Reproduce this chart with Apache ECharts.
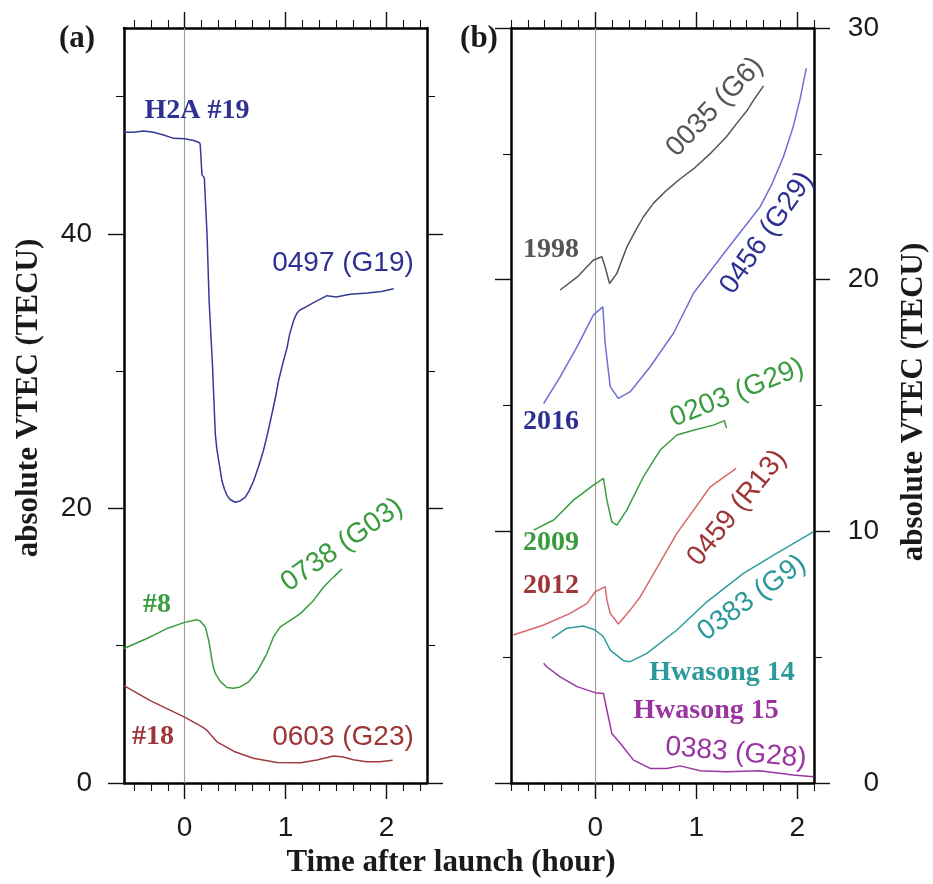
<!DOCTYPE html>
<html><head><meta charset="utf-8">
<script src="https://cdn.jsdelivr.net/npm/echarts@6/dist/echarts.min.js"></script>
<style>html,body{margin:0;padding:0;background:#fff}#c{width:933px;height:884px}</style>
</head><body><div id="c"></div>
<script>
// ---------- Panel (a) data: time after launch (hour) / absolute VTEC (TECU)
const tBlueA = [-0.6,-0.505,-0.406,-0.307,-0.208,-0.109,0,0.09,0.149,0.155,0.172,0.188,0.195,0.222,0.243,0.277,0.304,0.32,0.337,0.355,0.37,0.395,0.42,0.45,0.5,0.55,0.6,0.64,0.683,0.73,0.78,0.82,0.865,0.9,0.93,0.97,1.014,1.04,1.08,1.11,1.14,1.18,1.277,1.41,1.5,1.64,1.81,1.95,2.07];
const vBlueA = [47.4,47.4,47.5,47.4,47.2,46.96,46.93,46.8,46.64,46.47,44.3,44.2,44.1,40.0,35.1,30.3,25.4,24.3,23.5,22.7,22.0,21.4,20.95,20.65,20.45,20.55,20.8,21.3,22.0,23.0,24.2,25.4,26.9,28.1,29.3,30.5,31.7,32.7,33.7,34.2,34.45,34.6,35.0,35.5,35.4,35.6,35.7,35.8,36.0];
const tGreenA = [-0.6,-0.34,-0.175,0,0.12,0.155,0.205,0.238,0.255,0.27,0.285,0.304,0.353,0.42,0.485,0.55,0.634,0.716,0.815,0.88,0.947,1.047,1.146,1.277,1.376,1.475,1.558];
const vGreenA = [9.8,10.64,11.25,11.7,11.9,11.8,11.37,10.4,9.7,8.95,8.45,7.98,7.4,6.96,6.9,7.0,7.37,8.1,9.43,10.64,11.37,11.85,12.34,13.3,14.28,15.0,15.6];
const tRedA = [-0.6,-0.34,0,0.17,0.22,0.32,0.49,0.68,0.915,1.15,1.31,1.475,1.57,1.67,1.8,1.93,2.06];
const vRedA = [7.1,6.0,4.8,4.1,3.85,3.0,2.3,1.8,1.5,1.48,1.67,1.96,1.9,1.7,1.55,1.55,1.65];

// ---------- Panel (b) data
const tGray = [-0.347,-0.18,-0.017,0.066,0.099,0.142,0.215,0.314,0.4,0.478,0.58,0.71,0.84,0.973,1.15,1.30,1.4,1.50,1.58,1.667];
const vGray = [19.59,20.1,20.78,20.91,20.5,19.85,20.25,21.3,21.95,22.5,23.05,23.56,24.0,24.4,25.05,25.68,26.2,26.7,27.2,27.7];
const tBlueB = [-0.51,-0.347,-0.18,-0.017,0.076,0.099,0.149,0.23,0.347,0.545,0.775,0.94,0.973,1.30,1.634,1.75,1.864,1.96,2.03,2.09];
const vBlueB = [15.08,16.14,17.33,18.6,18.92,17.47,15.75,15.28,15.55,16.54,17.87,19.19,19.46,21.18,22.9,23.8,24.88,26.07,27.2,28.4];
const tGreenB = [-0.61,-0.41,-0.215,-0.017,0.082,0.116,0.165,0.215,0.314,0.478,0.644,0.809,0.973,1.17,1.28,1.30];
const vGreenB = [10.05,10.45,11.24,11.84,12.1,11.24,10.38,10.25,10.85,12.17,13.23,13.83,14.02,14.22,14.4,14.1];
const tRedB = [-0.81,-0.51,-0.248,-0.08,0,0.099,0.116,0.149,0.23,0.347,0.446,0.809,1.14,1.396];
const vRedB = [5.88,6.28,6.74,7.14,7.6,7.8,7.27,6.74,6.32,6.87,7.4,9.92,11.77,12.5];
const tTeal = [-0.43,-0.28,-0.116,0,0.082,0.149,0.28,0.347,0.512,0.809,1.106,1.468,1.8,2.16];
const vTeal = [5.75,6.15,6.24,6.08,5.81,5.28,4.86,4.82,5.15,6.08,7.2,8.33,9.13,9.98];
const tPurple = [-0.51,-0.48,-0.347,-0.18,0,0.082,0.116,0.165,0.248,0.38,0.545,0.71,0.842,1.04,1.3,1.63,1.96,2.16];
const vPurple = [4.76,4.62,4.22,3.83,3.59,3.56,2.9,1.97,1.58,0.91,0.58,0.58,0.68,0.49,0.45,0.49,0.32,0.25];

// ---------- ticks
const xMajor = [0,1,2];
const yMajorA = [0,20,40];
const yMinorA = [10,30,50];
const yMajorB = [0,10,20,30];
const yMinorB = [5,15,25];
function minorX(kmin,kmax){const a=[];for(let k=kmin;k<=kmax;k++){if(k%6!==0)a.push(k/6);}return a;}
const xMinorA = minorX(-3,14);
const xMinorB = minorX(-5,13);

const SANS = '"Liberation Sans", Arial, sans-serif';
const SERIF = '"Liberation Serif", "Times New Roman", serif';

function xAx(grid,min,max,pos,ticks,len,showLine,labels){
  return {type:'value',gridIndex:grid,min:min,max:max,position:pos,
    axisLine:{show:showLine,onZero:false,lineStyle:{color:'#000',width:2.5}},
    axisTick:{show:true,inside:false,length:len,customValues:ticks,lineStyle:{color:'#111',width:len>10?1.4:1.1}},
    axisLabel:labels?{show:true,customValues:labels,fontSize:28,fontFamily:SANS,color:'#1a1a1a',margin:31}:{show:false},
    splitLine:{show:false},minorTick:{show:false},minorSplitLine:{show:false}};
}
function yAx(grid,min,max,pos,ticks,len,showLine,labels,lab){
  const o={type:'value',gridIndex:grid,min:min,max:max,position:pos,
    axisLine:{show:showLine,onZero:false,lineStyle:{color:'#000',width:2.5}},
    axisTick:{show:true,inside:false,length:len,customValues:ticks,lineStyle:{color:'#111',width:len>10?1.4:1.1}},
    axisLabel:{show:false},
    splitLine:{show:false},minorTick:{show:false},minorSplitLine:{show:false}};
  if(labels){o.axisLabel=Object.assign({show:true,customValues:labels,fontSize:28,fontFamily:SANS,color:'#1a1a1a'},lab);}
  return o;
}
const xAxes=[
  xAx(0,-0.6,2.4,'bottom',xMajor,16,true,xMajor),
  xAx(0,-0.6,2.4,'bottom',xMinorA,8,false,null),
  xAx(0,-0.6,2.4,'top',xMajor,16,true,null),
  xAx(0,-0.6,2.4,'top',xMinorA,8,false,null),
  xAx(1,-5/6,13/6,'bottom',xMajor,16,true,xMajor),
  xAx(1,-5/6,13/6,'bottom',xMinorB,8,false,null),
  xAx(1,-5/6,13/6,'top',xMajor,16,true,null),
  xAx(1,-5/6,13/6,'top',xMinorB,8,false,null)
];
const yAxes=[
  yAx(0,0,55,'left',yMajorA,16,true,yMajorA,{margin:32}),
  yAx(0,0,55,'left',yMinorA,8,false,null),
  yAx(0,0,55,'right',yMajorA,16,true,null),
  yAx(0,0,55,'right',yMinorA,8,false,null),
  yAx(1,0,30,'left',yMajorB,16,true,null),
  yAx(1,0,30,'left',yMinorB,8,false,null),
  yAx(1,0,30,'right',yMajorB,16,true,yMajorB,{margin:65,align:'right'}),
  yAx(1,0,30,'right',yMinorB,8,false,null)
];
function zip(t,v){return t.map((x,i)=>[x,v[i]]);}
function line(grid,t,v,color,withZero){
  const s={type:'line',xAxisIndex:grid===0?0:4,yAxisIndex:grid===0?0:4,data:zip(t,v),
    showSymbol:false,symbol:'none',silent:true,z:3,
    lineStyle:{color:color,width:1.5},itemStyle:{color:color}};
  if(withZero){s.markLine={silent:true,symbol:['none','none'],label:{show:false},
    lineStyle:{color:'#9c9c9c',width:1.1,type:'solid'},data:[{xAxis:0}],z:1};}
  return s;
}
function txt(text,x,y,color,font,rotDeg){
  return {type:'text',x:x,y:y,rotation:(rotDeg||0)*Math.PI/180,z:10,
    style:{text:text,x:0,y:0,fill:color,font:font,align:'center',verticalAlign:'middle'}};
}
const NAVY='#2e3192', GREEN='#3a9b3f', DRED='#9e3536', GRAY='#555555', TEAL='#2b9a9b', PURP='#9933a0';
const fB='bold 28px '+SERIF, fS='28px '+SANS, fT='bold 31px '+SERIF;

const chart=echarts.init(document.getElementById('c'),null,{renderer:'canvas'});
chart.setOption({
  animation:false,
  backgroundColor:'#fff',
  grid:[
    {left:124,top:28,width:303,height:755,outerBoundsMode:'none',containLabel:false},
    {left:511,top:28,width:303,height:755,outerBoundsMode:'none',containLabel:false}
  ],
  xAxis:xAxes,
  yAxis:yAxes,
  series:[
    line(0,tBlueA,vBlueA,'#333a96',true),
    line(0,tGreenA,vGreenA,'#3c9c40'),
    line(0,tRedA,vRedA,'#a03a3c'),
    line(1,tGray,vGray,'#555555',true),
    line(1,tBlueB,vBlueB,'#6f70d6'),
    line(1,tGreenB,vGreenB,'#3c9c40'),
    line(1,tRedB,vRedB,'#d9686a'),
    line(1,tTeal,vTeal,'#2e9c9c'),
    line(1,tPurple,vPurple,'#9b35a3')
  ],
  graphic:[
    txt('(a)',77,39,'#1a1a1a',fT),
    txt('(b)',479,39,'#1a1a1a',fT),
    txt('absolute VTEC (TECU)',29,398,'#1a1a1a',fT,90),
    txt('absolute VTEC (TECU)',914,402,'#1a1a1a',fT,90),
    txt('Time after launch (hour)',451,863,'#1a1a1a',fT),
    txt('H2A #19',197,111,NAVY,fB),
    txt('0497 (G19)',343,263,NAVY,fS),
    txt('#8',157,605,GREEN,fB),
    txt('0738 (G03)',342,545,GREEN,fS,35),
    txt('#18',153,737,DRED,fB),
    txt('0603 (G23)',343,737,DRED,fS),
    txt('1998',551,250,GRAY,fB),
    txt('0035 (G6)',715,107,GRAY,fS,46),
    txt('0456 (G29)',767,233,NAVY,fS,55),
    txt('2016',551,422,NAVY,fB),
    txt('0203 (G29)',737,393,GREEN,fS,22),
    txt('2009',551,543,GREEN,fB),
    txt('0459 (R13)',737,508,DRED,fS,51),
    txt('2012',551,586,DRED,fB),
    txt('0383 (G9)',752,598,TEAL,fS,36),
    txt('Hwasong 14',722,673,TEAL,fB),
    txt('Hwasong 15',706,711,PURP,fB),
    txt('0383 (G28)',736,753,PURP,fS,-5)
  ]
});
</script></body></html>
